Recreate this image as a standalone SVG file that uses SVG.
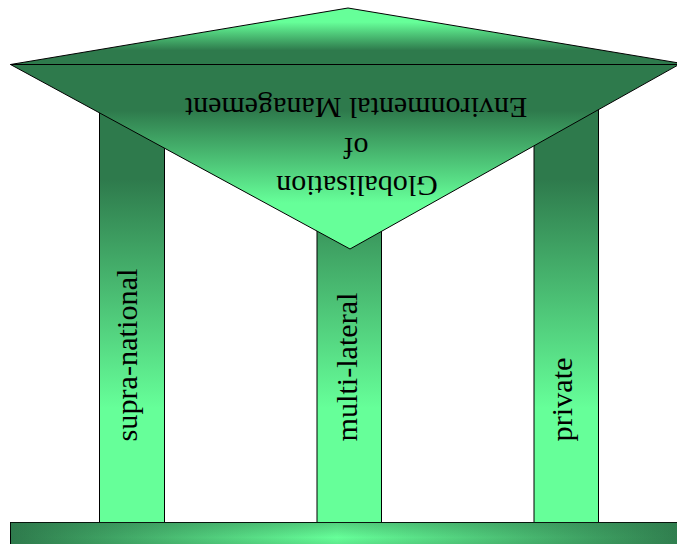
<svg xmlns="http://www.w3.org/2000/svg" width="677" height="544" viewBox="0 0 677 544">
<defs>
<linearGradient id="gPillar" x1="0" y1="0" x2="0" y2="1">
<stop offset="0.25" stop-color="#2e7a4c"/>
<stop offset="0.75" stop-color="#66ff99"/>
</linearGradient>
<linearGradient id="gRoofTop" x1="0" y1="0" x2="0" y2="1">
<stop offset="0.25" stop-color="#66ff99"/>
<stop offset="0.75" stop-color="#2e7a4c"/>
</linearGradient>
<linearGradient id="gRoofBot" x1="0" y1="0" x2="0" y2="1">
<stop offset="0.25" stop-color="#2e7a4c"/>
<stop offset="0.75" stop-color="#66ff99"/>
</linearGradient>
<linearGradient id="gBase" x1="0" y1="0" x2="1" y2="0">
<stop offset="0" stop-color="#2e7a4c"/>
<stop offset="0.48" stop-color="#66ff99"/>
<stop offset="1" stop-color="#2e7a4c"/>
</linearGradient>
<linearGradient id="gBaseV" x1="0" y1="0" x2="0" y2="1">
<stop offset="0" stop-color="#2e7a4c" stop-opacity="0.35"/>
<stop offset="0.5" stop-color="#2e7a4c" stop-opacity="0"/>
<stop offset="1" stop-color="#2e7a4c" stop-opacity="0.35"/>
</linearGradient>
</defs>
<style>
.pillar { fill: url(#gPillar); stroke: #000; stroke-width: 1; }
.lbl { font-family: "Liberation Serif", "Times New Roman", serif; font-size: 30px; fill: #000; }
</style>
<g id="pillar-supra-national">
<rect class="pillar" x="99.5" y="64.5" width="65" height="458"/>
<text class="lbl" transform="translate(137,441.5) rotate(-90)" textLength="173" lengthAdjust="spacingAndGlyphs">supra-national</text>
</g>
<g id="pillar-multi-lateral">
<rect class="pillar" x="317" y="64.5" width="64.5" height="458"/>
<text class="lbl" transform="translate(357,441.5) rotate(-90)" textLength="149" lengthAdjust="spacingAndGlyphs">multi-lateral</text>
</g>
<g id="pillar-private">
<rect class="pillar" x="534" y="64.5" width="64.5" height="458"/>
<text class="lbl" transform="translate(572,441.5) rotate(-90)" textLength="84" lengthAdjust="spacingAndGlyphs">private</text>
</g>
<g id="roof">
<polygon points="10.5,64.5 348,8 688,64.5" fill="url(#gRoofTop)" stroke="#000" stroke-width="1"/>
<polygon points="10.5,64.5 679,64.5 350,249" fill="url(#gRoofBot)" stroke="#000" stroke-width="1"/>
<text class="lbl" text-anchor="middle" transform="translate(356,98) rotate(180)">Environmental Management</text>
<text class="lbl" text-anchor="middle" transform="translate(356,138) rotate(180)">of</text>
<text class="lbl" text-anchor="middle" transform="translate(357,176) rotate(180)">Globalisation</text>
</g>
<g id="base">
<rect x="10.5" y="522.5" width="680" height="30" fill="url(#gBase)" stroke="#000" stroke-width="1"/>
<rect x="10.5" y="522.5" width="680" height="30" fill="url(#gBaseV)"/>
</g>
<g id="connectors"></g>
</svg>
